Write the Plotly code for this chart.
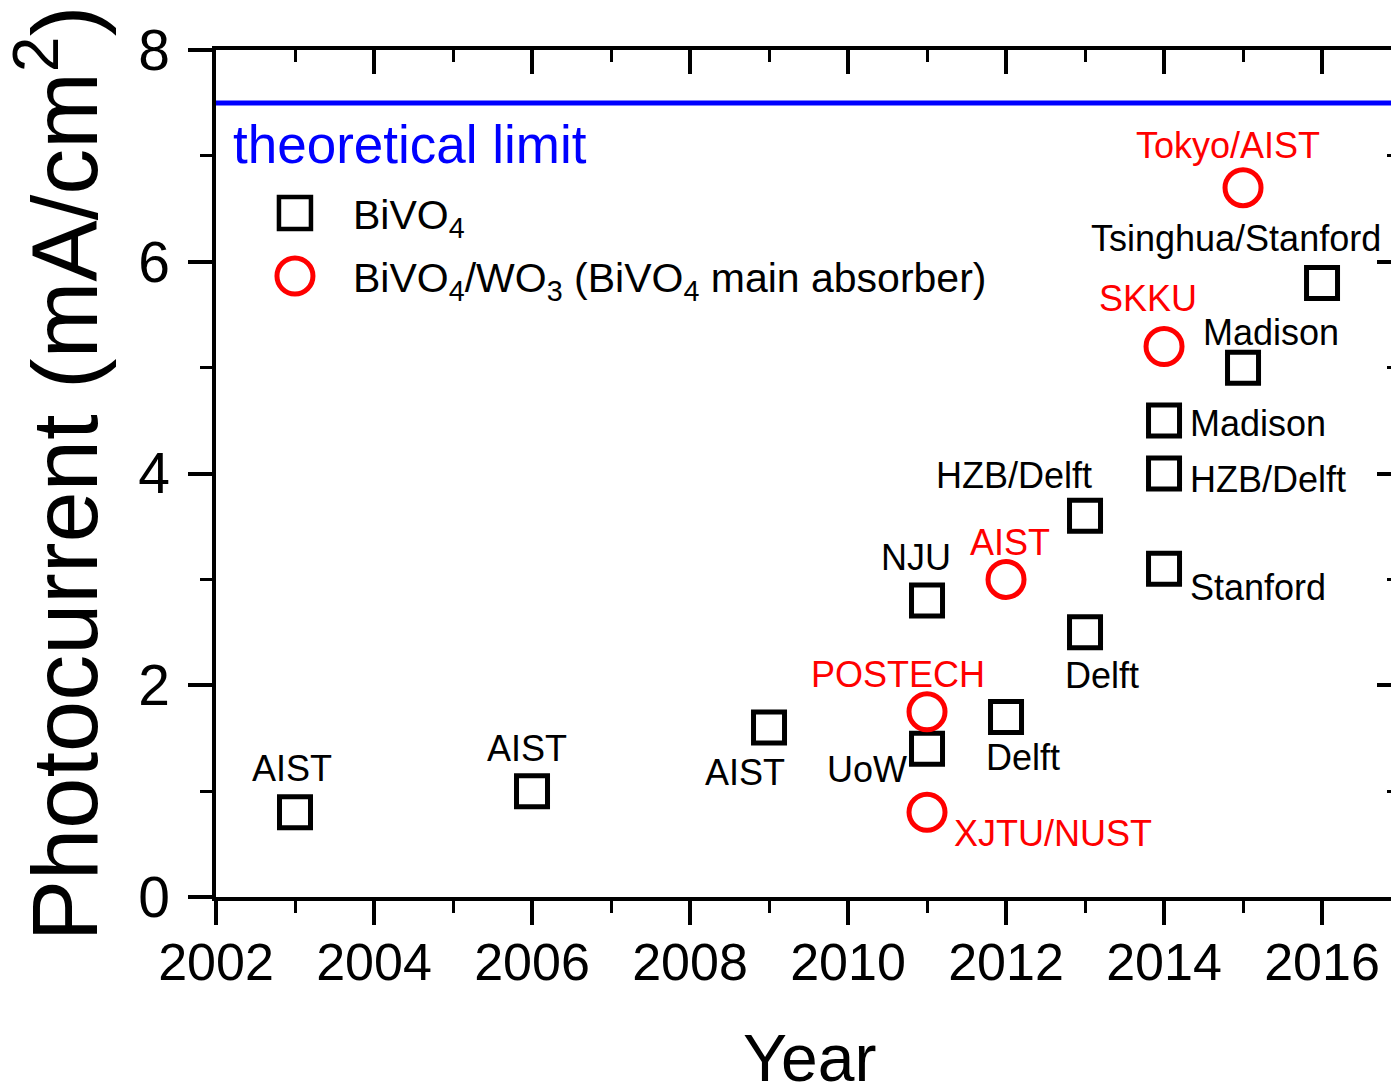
import plotly.graph_objects as go

# ---------------- data ----------------
bivo4_year = [2003, 2006, 2009, 2011, 2011, 2012, 2013, 2013, 2014, 2014, 2014, 2015, 2016]
bivo4_current = [0.8, 1.0, 1.6, 2.8, 1.4, 1.7, 3.6, 2.5, 4.5, 4.0, 3.1, 5.0, 5.8]
bivo4_labels = ["AIST", "AIST", "AIST", "NJU", "UoW", "Delft", "HZB/Delft", "Delft",
                "Madison", "HZB/Delft", "Stanford", "Madison", "Tsinghua/Stanford"]

wo3_year = [2011, 2011, 2012, 2014, 2015]
wo3_current = [1.75, 0.8, 3.0, 5.2, 6.7]
wo3_labels = ["POSTECH", "XJTU/NUST", "AIST", "SKKU", "Tokyo/AIST"]

theoretical_limit = 7.5
x_range = [2002, 2016.873]
y_range = [0, 8]

x_title = "Year"
y_title = "Photocurrent (mA/cm<sup>2</sup>)"

# ---------------- label placement (style) ----------------
# (xanchor, xshift px, yshift px)
bivo4_label_pos = [("center", -3, 44), ("center", -5, 43), ("center", -24, -45),
                   ("center", -11, 43), ("center", -60, -21), ("center", 17, -40),
                   ("center", -71, 40), ("center", 17, -43), ("left", 24, -3),
                   ("left", 24, -6), ("left", 24, -19), ("left", -42, 35),
                   ("center", -86, 44)]
wo3_label_pos = [("center", -29, 37), ("left", 25, -21), ("center", 4, 37),
                 ("center", -16, 48), ("center", -15, 42)]

FONT = "Liberation Sans, Arial, sans-serif"
BLACK = "#000000"
RED = "#FF0000"
BLUE = "#0000FF"

fig = go.Figure()

fig.add_trace(go.Scatter(
    x=bivo4_year, y=bivo4_current, mode="markers", name="BiVO<sub>4</sub>",
    marker=dict(symbol="square-open", size=31, color=BLACK, line=dict(width=5, color=BLACK)),
    showlegend=False, cliponaxis=False,
))
fig.add_trace(go.Scatter(
    x=wo3_year, y=wo3_current, mode="markers",
    name="BiVO<sub>4</sub>/WO<sub>3</sub> (BiVO<sub>4</sub> main absorber)",
    marker=dict(symbol="circle-open", size=36, color=RED, line=dict(width=5, color=RED)),
    showlegend=False, cliponaxis=False,
))
# invisible trace on the mirrored (top / right) axes
fig.add_trace(go.Scatter(x=[x_range[0]], y=[y_range[0]], xaxis="x2", yaxis="y2",
                         mode="markers", marker=dict(opacity=0), showlegend=False,
                         hoverinfo="skip"))

annotations = []
for xv, yv, lab, (anc, dx, dy) in zip(bivo4_year, bivo4_current, bivo4_labels, bivo4_label_pos):
    annotations.append(dict(x=xv, y=yv, xref="x", yref="y", text=lab, showarrow=False,
                            xanchor=anc, yanchor="middle", xshift=dx, yshift=dy,
                            font=dict(family=FONT, size=36, color=BLACK)))
for xv, yv, lab, (anc, dx, dy) in zip(wo3_year, wo3_current, wo3_labels, wo3_label_pos):
    annotations.append(dict(x=xv, y=yv, xref="x", yref="y", text=lab, showarrow=False,
                            xanchor=anc, yanchor="middle", xshift=dx, yshift=dy,
                            font=dict(family=FONT, size=36, color=RED)))

# theoretical limit text
annotations.append(dict(x=0, y=theoretical_limit, xref="x domain", yref="y",
                        text="theoretical limit", showarrow=False, xanchor="left",
                        yanchor="middle", xshift=15, yshift=-42,
                        font=dict(family=FONT, size=53, color=BLUE)))

# x-axis title (placed below the tick labels, partly cut by the canvas edge as in the source)
annotations.append(dict(x=0.5047, y=-0.1901, xref="paper", yref="paper", text=x_title,
                        showarrow=False, xanchor="center", yanchor="middle",
                        font=dict(family=FONT, size=66, color=BLACK)))

# legend texts
legend_key_x = 0.0672
legend_text_x = 0.1183
legend_rows_y = [0.8076, 0.7332]
annotations.append(dict(x=legend_text_x, y=legend_rows_y[0], xref="paper", yref="paper",
                        text="BiVO<sub>4</sub>", showarrow=False, xanchor="left",
                        yanchor="middle", xshift=-4, yshift=-5,
                        font=dict(family=FONT, size=41, color=BLACK)))
annotations.append(dict(x=legend_text_x, y=legend_rows_y[1], xref="paper", yref="paper",
                        text="BiVO<sub>4</sub>/WO<sub>3</sub> (BiVO<sub>4</sub> main absorber)",
                        showarrow=False, xanchor="left", yanchor="middle", xshift=-4, yshift=-5,
                        font=dict(family=FONT, size=41, color=BLACK)))

shapes = [
    dict(type="line", xref="x domain", yref="y", x0=0, x1=1,
         y0=theoretical_limit, y1=theoretical_limit, line=dict(color=BLUE, width=5)),
    # legend keys
    dict(type="rect", xref="paper", yref="paper", xsizemode="pixel", ysizemode="pixel",
         xanchor=legend_key_x, yanchor=legend_rows_y[0], x0=-16, x1=16, y0=-16, y1=16,
         line=dict(color=BLACK, width=4.5)),
    dict(type="circle", xref="paper", yref="paper", xsizemode="pixel", ysizemode="pixel",
         xanchor=legend_key_x, yanchor=legend_rows_y[1], x0=-18, x1=18, y0=-18, y1=18,
         line=dict(color=RED, width=5)),
]

axis_common = dict(showgrid=False, zeroline=False, linecolor=BLACK, tickcolor=BLACK,
                   automargin=False)

fig.update_layout(
    width=1391, height=1084,
    margin=dict(l=216, r=0, t=50, b=187, pad=0, autoexpand=False),
    paper_bgcolor="white", plot_bgcolor="white",
    showlegend=False,
    annotations=annotations, shapes=shapes,
    xaxis=dict(range=x_range, tick0=2002, dtick=2, ticks="outside", ticklen=24, tickwidth=3.5,
               showline=True, linewidth=3.5, mirror=False, ticklabelstandoff=-7,
               minor=dict(dtick=1, ticks="outside", ticklen=12, tickwidth=3, tickcolor=BLACK),
               tickfont=dict(family=FONT, size=52, color=BLACK),
               **axis_common),
    yaxis=dict(range=y_range, tick0=0, dtick=2, ticks="outside", ticklen=24, tickwidth=3.5,
               showline=True, linewidth=3.5, mirror=False, ticklabelstandoff=7,
               minor=dict(dtick=1, ticks="outside", ticklen=12, tickwidth=3, tickcolor=BLACK),
               tickfont=dict(family=FONT, size=57, color=BLACK),
               title=dict(text=y_title, font=dict(family=FONT, size=92, color=BLACK), standoff=30),
               **axis_common),
    xaxis2=dict(range=x_range, overlaying="x", side="top", anchor="y2", tick0=2002, dtick=2,
                ticks="inside", ticklen=24, tickwidth=3.5, showline=True, linewidth=3.5,
                showticklabels=False,
                minor=dict(dtick=1, ticks="inside", ticklen=12, tickwidth=3, tickcolor=BLACK),
                **axis_common),
    yaxis2=dict(range=y_range, overlaying="y", side="right", anchor="x2", tick0=0, dtick=2,
                ticks="inside", ticklen=14, tickwidth=3.5, showline=False,
                showticklabels=False,
                minor=dict(dtick=1, ticks="inside", ticklen=4, tickwidth=3, tickcolor=BLACK),
                **axis_common),
)

fig.write_html("out.html")
